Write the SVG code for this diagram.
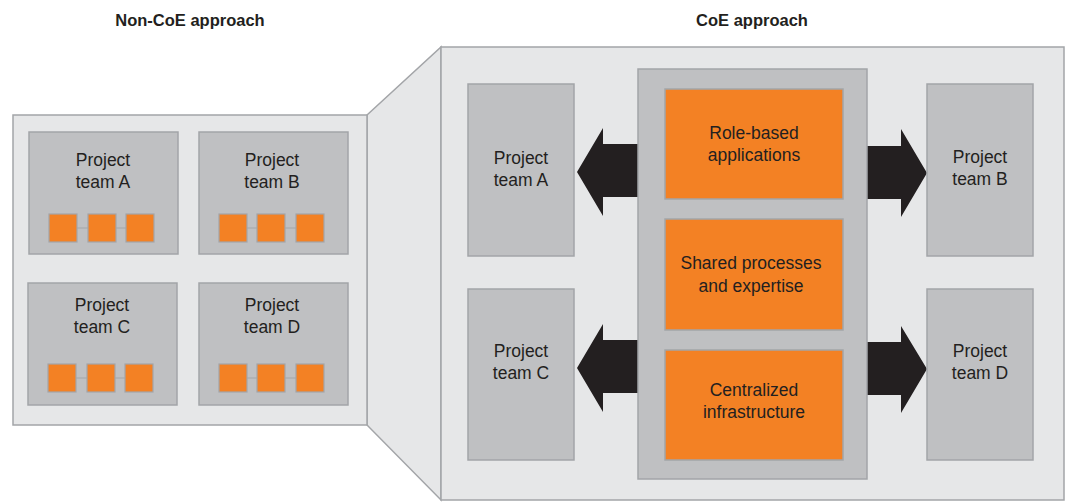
<svg xmlns="http://www.w3.org/2000/svg" width="1066" height="502" viewBox="0 0 1066 502">
<style>
.panel{fill:#e6e7e8;stroke:#a3a5a8;stroke-width:1.5}
.box{fill:#bfc0c2;stroke:#a3a5a8;stroke-width:1.5}
.sq{fill:#f38124;stroke:#a3a5a8;stroke-width:1.2}
.ob{fill:#f38124;stroke:#a3a5a8;stroke-width:1.5}
.lnk{stroke:#a3a5a8;stroke-width:1.2}
.arrow{fill:#231f20}
text{font-family:"Liberation Sans",Arial,sans-serif;font-size:17.5px;fill:#231f20;text-anchor:middle}
.title{font-weight:bold;font-size:16.5px}
</style>
<rect width="1066" height="502" fill="#ffffff"/>
<text class="title" x="190" y="26">Non-CoE approach</text>
<text class="title" x="752" y="26">CoE approach</text>

<g id="non-coe-panel">
<polygon class="panel" points="367,115 441,47 441,500 367,425"/>
<rect class="panel" x="13" y="115" width="354" height="310"/>
</g>
<g id="coe-panel">
<rect class="panel" x="441" y="47" width="623" height="453"/>
</g>

<g id="nc-team-a">
<rect class="box" x="29" y="132" width="149" height="122"/>
<text x="103" y="166">Project</text><text x="103" y="188">team A</text>
<line class="lnk" x1="63" y1="228" x2="140" y2="228"/>
<rect class="sq" x="49" y="214" width="28" height="28"/>
<rect class="sq" x="88" y="214" width="28" height="28"/>
<rect class="sq" x="126" y="214" width="28" height="28"/>
</g>
<g id="nc-team-b">
<rect class="box" x="199" y="132" width="149" height="122"/>
<text x="272" y="166">Project</text><text x="272" y="188">team B</text>
<line class="lnk" x1="233" y1="228" x2="310" y2="228"/>
<rect class="sq" x="219" y="214" width="28" height="28"/>
<rect class="sq" x="257" y="214" width="28" height="28"/>
<rect class="sq" x="296" y="214" width="28" height="28"/>
</g>
<g id="nc-team-c">
<rect class="box" x="28" y="283" width="149" height="122"/>
<text x="102" y="311">Project</text><text x="102" y="333">team C</text>
<line class="lnk" x1="62" y1="378" x2="139" y2="378"/>
<rect class="sq" x="48" y="364" width="28" height="28"/>
<rect class="sq" x="87" y="364" width="28" height="28"/>
<rect class="sq" x="125" y="364" width="28" height="28"/>
</g>
<g id="nc-team-d">
<rect class="box" x="199" y="283" width="149" height="122"/>
<text x="272" y="311">Project</text><text x="272" y="333">team D</text>
<line class="lnk" x1="233" y1="378" x2="310" y2="378"/>
<rect class="sq" x="219" y="364" width="28" height="28"/>
<rect class="sq" x="257" y="364" width="28" height="28"/>
<rect class="sq" x="296" y="364" width="28" height="28"/>
</g>

<g id="connectors">
<polygon class="arrow" points="638,144 603,144 603,128 577,172 603,216 603,197 638,197"/>
<polygon class="arrow" points="638,340 603,340 603,324 577,368 603,412 603,393 638,393"/>
<polygon class="arrow" points="867,146 901,146 901,129 927,173 901,217 901,199 867,199"/>
<polygon class="arrow" points="867,342 901,342 901,326 927,369 901,413 901,395 867,395"/>
</g>

<g id="coe-team-a">
<rect class="box" x="468" y="84" width="106" height="172"/>
<text x="521" y="164">Project</text><text x="521" y="186">team A</text>
</g>
<g id="coe-team-b">
<rect class="box" x="927" y="84" width="106" height="172"/>
<text x="980" y="163">Project</text><text x="980" y="185">team B</text>
</g>
<g id="coe-team-c">
<rect class="box" x="468" y="289" width="106" height="171"/>
<text x="521" y="357">Project</text><text x="521" y="379">team C</text>
</g>
<g id="coe-team-d">
<rect class="box" x="927" y="289" width="106" height="171"/>
<text x="980" y="357">Project</text><text x="980" y="379">team D</text>
</g>

<g id="coe-center">
<rect class="box" x="638" y="69" width="229" height="410"/>
</g>
<g id="role-based">
<rect class="ob" x="665" y="89" width="178" height="110"/>
<text x="754" y="139">Role-based</text><text x="754" y="161">applications</text>
</g>
<g id="shared-processes">
<rect class="ob" x="665" y="219" width="178" height="111"/>
<text x="751" y="269">Shared processes</text><text x="751" y="292">and expertise</text>
</g>
<g id="centralized-infra">
<rect class="ob" x="665" y="350" width="178" height="110"/>
<text x="754" y="396">Centralized</text><text x="754" y="418">infrastructure</text>
</g>
</svg>
